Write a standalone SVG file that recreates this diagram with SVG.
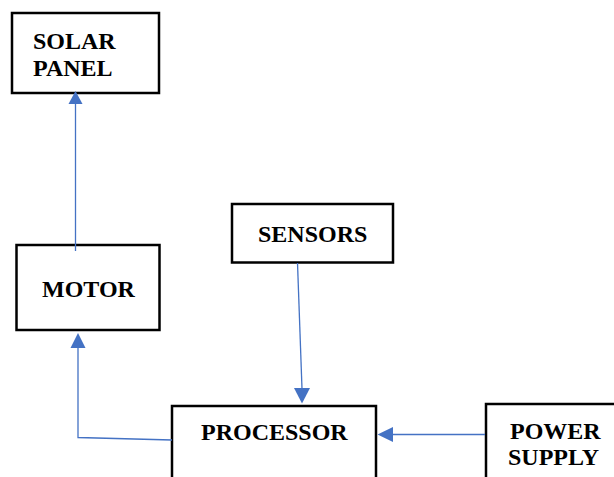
<svg xmlns="http://www.w3.org/2000/svg" width="614" height="477" viewBox="0 0 614 477">
<style>
.box{fill:#fff;stroke:#000;stroke-width:2.5}
.t{font-family:"Liberation Serif","Times New Roman",serif;font-weight:bold;font-size:24px;fill:#000}
.c{fill:none;stroke:#4472C4;stroke-width:1.3}
.ah{fill:#4472C4}
</style>
<rect width="614" height="477" fill="#fff"/>
<g id="solar-panel">
<rect class="box" x="12" y="13" width="147" height="80"/>
<text class="t" x="33" y="49">SOLAR</text>
<text class="t" x="33" y="76">PANEL</text>
</g>
<g id="motor">
<rect class="box" x="16.5" y="245" width="143" height="85"/>
<text class="t" x="42" y="297">MOTOR</text>
</g>
<g id="sensors">
<rect class="box" x="232" y="204" width="161" height="58.5"/>
<text class="t" x="258" y="242">SENSORS</text>
</g>
<g id="processor">
<rect class="box" x="172" y="406" width="204" height="80"/>
<text class="t" x="201" y="440">PROCESSOR</text>
</g>
<g id="power-supply">
<rect class="box" x="486" y="404" width="140" height="85"/>
<text class="t" x="510" y="439">POWER</text>
<text class="t" x="508" y="465">SUPPLY</text>
</g>
<g id="connectors">
<line class="c" x1="75.5" y1="251" x2="75.5" y2="104"/>
<polygon class="ah" points="75.5,91 68.5,104 82.5,104"/>
<polyline class="c" points="172,440 78,437.5 78,347"/>
<polygon class="ah" points="78,333 70.5,348 85.5,348"/>
<line class="c" x1="297.5" y1="263" x2="302" y2="389"/>
<polygon class="ah" points="302,403.5 294,388 310,388"/>
<line class="c" x1="485" y1="434.5" x2="392" y2="434.5"/>
<polygon class="ah" points="377.5,434.5 393,427 393,442"/>
</g>
</svg>
